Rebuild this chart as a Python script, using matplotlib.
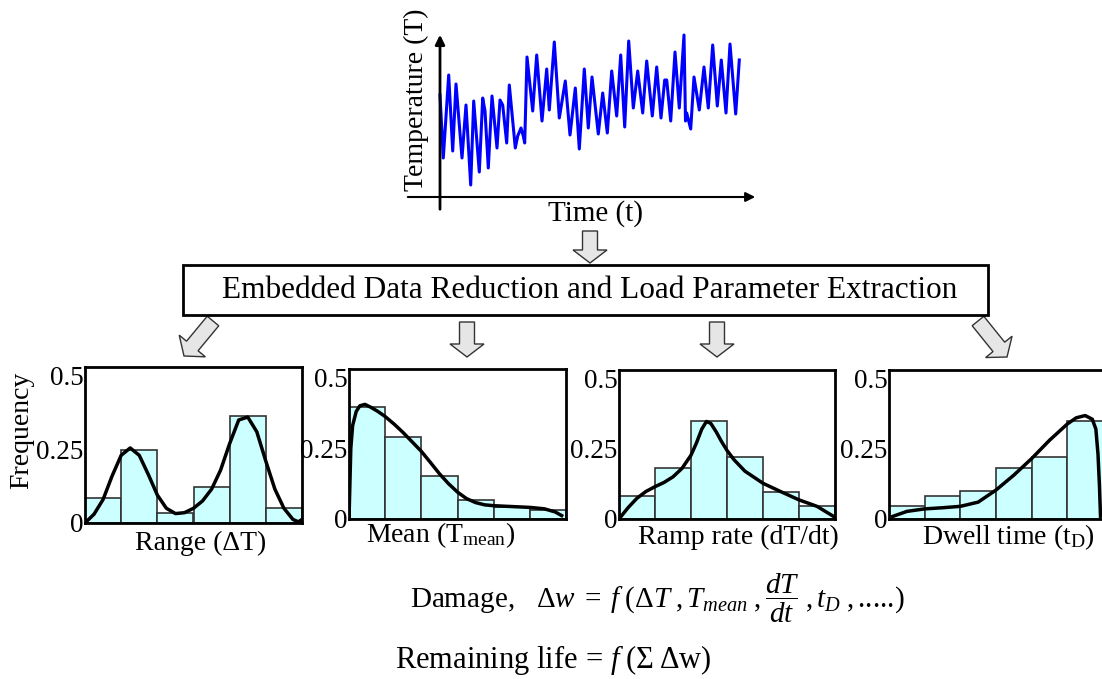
import matplotlib
matplotlib.use("Agg")
import matplotlib.pyplot as plt
from matplotlib.patches import FancyArrow, Rectangle

plt.rcParams["font.family"] = ["Liberation Serif", "DejaVu Serif"]
plt.rcParams["mathtext.fontset"] = "custom"
plt.rcParams["mathtext.rm"] = "Liberation Serif"
plt.rcParams["mathtext.it"] = "Liberation Serif:italic"
plt.rcParams["mathtext.bf"] = "Liberation Serif:bold"

W, H = 1102, 679

# temperature history (peaks and valleys)
time_t = [0, 3.3, 8.7, 12.7, 16, 22, 26, 30.7, 33.7, 39.3, 42.7, 45, 48.3, 52,
          57, 60, 62.7, 66.7, 69.3, 75.3, 77.7, 81, 83.3, 84.7, 87, 92.7, 96.7,
          102, 106.7, 109.3, 114.3, 119.3, 125.3, 130, 135.3, 139.3, 144.3,
          148.3, 152, 158.3, 162.7, 167.3, 171.7, 176.7, 180.7, 184.7, 188.7,
          193.3, 197.7, 202.7, 206.7, 212.3, 216.7, 221, 224.7, 226.7, 230.7,
          235, 239.3, 244, 245.5, 246.7, 250.7, 254, 259.3, 264, 268.3, 272.7,
          277.3, 281.3, 286, 290, 295.7, 299.3]
temp_T = [105, 42, 125, 49, 116, 42, 95, 15, 99, 28, 102, 89, 32, 104,
          52, 100, 95, 57, 115, 52, 64, 72, 64, 57, 143, 89, 145,
          79, 131, 90, 158, 82, 119, 65, 112, 51, 131,
          72, 123, 66, 107, 67, 129, 84, 145, 73, 159,
          92, 129, 87, 139, 84, 133, 82, 120, 120, 79,
          148, 92, 165, 79, 87, 71, 123, 90, 133, 92, 155,
          94, 140, 87, 156, 86, 140]

# histogram panels
bar_x = [0.5, 1.5, 2.5, 3.5, 4.5, 5.5]
range_freq = [0.085, 0.247, 0.034, 0.122, 0.363, 0.051]
mean_freq = [0.397, 0.291, 0.153, 0.068, 0.042, 0.031]
ramp_freq = [0.083, 0.182, 0.348, 0.219, 0.095, 0.045]
dwell_freq = [0.045, 0.083, 0.098, 0.182, 0.219, 0.348]

range_cx = [0, 0.25, 0.5, 0.75, 1.0, 1.25, 1.5, 1.75, 2.0, 2.25, 2.5, 2.75, 3.0,
            3.25, 3.5, 3.75, 4.0, 4.25, 4.5, 4.75, 5.0, 5.25, 5.5, 5.75, 5.9, 6.0]
range_cy = [0.0, 0.03, 0.08, 0.16, 0.23, 0.255, 0.23, 0.165, 0.095, 0.05, 0.032,
            0.035, 0.05, 0.075, 0.115, 0.18, 0.27, 0.35, 0.36, 0.31, 0.21,
            0.115, 0.05, 0.012, 0.004, 0.012]
mean_cx = [0, 0.05, 0.1, 0.2, 0.3, 0.44, 0.6, 0.8, 1.0, 1.25, 1.5, 1.75, 2.0,
           2.25, 2.5, 2.75, 3.0, 3.25, 3.5, 3.75, 4.0, 4.5, 5.0, 5.4, 5.7, 5.88]
mean_cy = [0.0, 0.25, 0.33, 0.38, 0.40, 0.405, 0.395, 0.38, 0.362, 0.335, 0.305,
           0.272, 0.239, 0.2, 0.16, 0.125, 0.095, 0.072, 0.058, 0.05, 0.047,
           0.044, 0.041, 0.036, 0.025, 0.012]
ramp_cx = [0, 0.25, 0.5, 0.75, 1.0, 1.25, 1.5, 1.75, 2.0, 2.15, 2.3, 2.43, 2.55,
           2.7, 2.85, 3.0, 3.2, 3.5, 4.0, 4.5, 5.0, 5.5, 5.95]
ramp_cy = [0, 0.04, 0.074, 0.098, 0.115, 0.13, 0.15, 0.18, 0.227, 0.27, 0.32,
           0.347, 0.34, 0.31, 0.275, 0.244, 0.21, 0.17, 0.127, 0.097, 0.068,
           0.045, 0.01]
dwell_cx = [0.1, 0.5, 1.0, 1.5, 2.0, 2.5, 3.0, 3.5, 4.0, 4.5, 5.0, 5.25, 5.5,
            5.7, 5.8, 5.86, 5.9, 5.93]
dwell_cy = [0.009, 0.027, 0.036, 0.04, 0.045, 0.06, 0.103, 0.156, 0.215, 0.28,
            0.338, 0.36, 0.368, 0.355, 0.32, 0.23, 0.12, 0.01]

yticks = [0, 0.25, 0.5]
ytick_labels = ["0", "0.25", "0.5"]


def px_axes(fig, l, t, r, b):
    return fig.add_axes([l / W, 1 - b / H, (r - l) / W, (b - t) / H])


fig = plt.figure(figsize=(W / 100, H / 100), dpi=100)

# canvas for the diagram parts, in pixels
cv = fig.add_axes([0, 0, 1, 1])
cv.set_xlim(0, W)
cv.set_ylim(H, 0)
cv.axis("off")

# top signal
ax = px_axes(fig, 405, 28, 760, 212)
ax.plot(time_t, temp_T, color="#0000ff", lw=2.2, solid_joinstyle="round")
ax.set_xlim(-35, 320)
ax.set_ylim(-12, 172)
ax.axis("off")
ax.annotate("", xy=(0, 168), xytext=(0, -12),
            arrowprops=dict(arrowstyle="-|>", color="black", lw=2, mutation_scale=14))
ax.annotate("", xy=(318, 3), xytext=(-35, 3),
            arrowprops=dict(arrowstyle="-|>", color="black", lw=1.5, mutation_scale=14))
cv.text(416, 100, "Temperature (T)", rotation=90, ha="center", va="center", fontsize=20)
cv.text(596, 214, "Time (t)", ha="center", va="center", fontsize=21)

# block arrows
arrow_style = dict(width=15, head_width=34, head_length=13, length_includes_head=True,
                   fc="#e6e6e6", ec="#333333", lw=1)
for x0, y0, x1, y1 in [(590, 231, 590, 263), (213, 321, 184, 356),
                       (467, 322, 467, 357), (717, 322, 717, 357),
                       (978, 321, 1007, 357)]:
    cv.add_patch(FancyArrow(x0, y0, x1 - x0, y1 - y0, **arrow_style))

# box
cv.add_patch(Rectangle((183, 265), 805, 50, fill=False, ec="black", lw=2))
cv.text(590, 291, "Embedded Data Reduction and Load Parameter Extraction",
        ha="center", va="center", fontsize=22.5)

# histograms
panels = [
    ((85, 367, 302, 523), range_freq, range_cx, range_cy, "Range (ΔT)", (201, 543)),
    ((349, 369, 566, 519), mean_freq, mean_cx, mean_cy, r"Mean (T$_{\mathrm{mean}}$)", (441, 535)),
    ((619, 370, 835, 519), ramp_freq, ramp_cx, ramp_cy, "Ramp rate (dT/dt)", (738, 537)),
    ((889, 370, 1103, 519), dwell_freq, dwell_cx, dwell_cy, r"Dwell time (t$_{\mathrm{D}}$)", (1008, 537)),
]
for box, freq, cx, cy, label, lpos in panels:
    hx = px_axes(fig, *box)
    hx.bar(bar_x, freq, width=1.0, color="#ccffff", edgecolor="#333333", lw=1.2)
    hx.plot(cx, cy, color="black", lw=2.5)
    hx.set_xlim(0, 6)
    hx.set_ylim(0, 0.53)
    hx.set_xticks([])
    hx.set_yticks(yticks)
    hx.set_yticklabels(ytick_labels, fontsize=19.5)
    hx.tick_params(axis="y", length=0, pad=1)
    for s in hx.spines.values():
        s.set_linewidth(2)
    cv.text(lpos[0], lpos[1], label, ha="center", va="center", fontsize=20)

cv.text(22, 430, "Frequency", rotation=90, ha="center", va="center", fontsize=20)

# formulas
cv.text(410, 598,
        r"Damage,   $\Delta w\;=\;f\;(\Delta T\;,T_{mean}\;,\dfrac{dT}{dt}\;,t_D\;,$.....)",
        ha="left", va="center", fontsize=21)
cv.text(395, 660, r"Remaining life$\,=\,f\;$(Σ$\;$Δw)", ha="left", va="center", fontsize=22)

fig.savefig("out.png", dpi=100)
